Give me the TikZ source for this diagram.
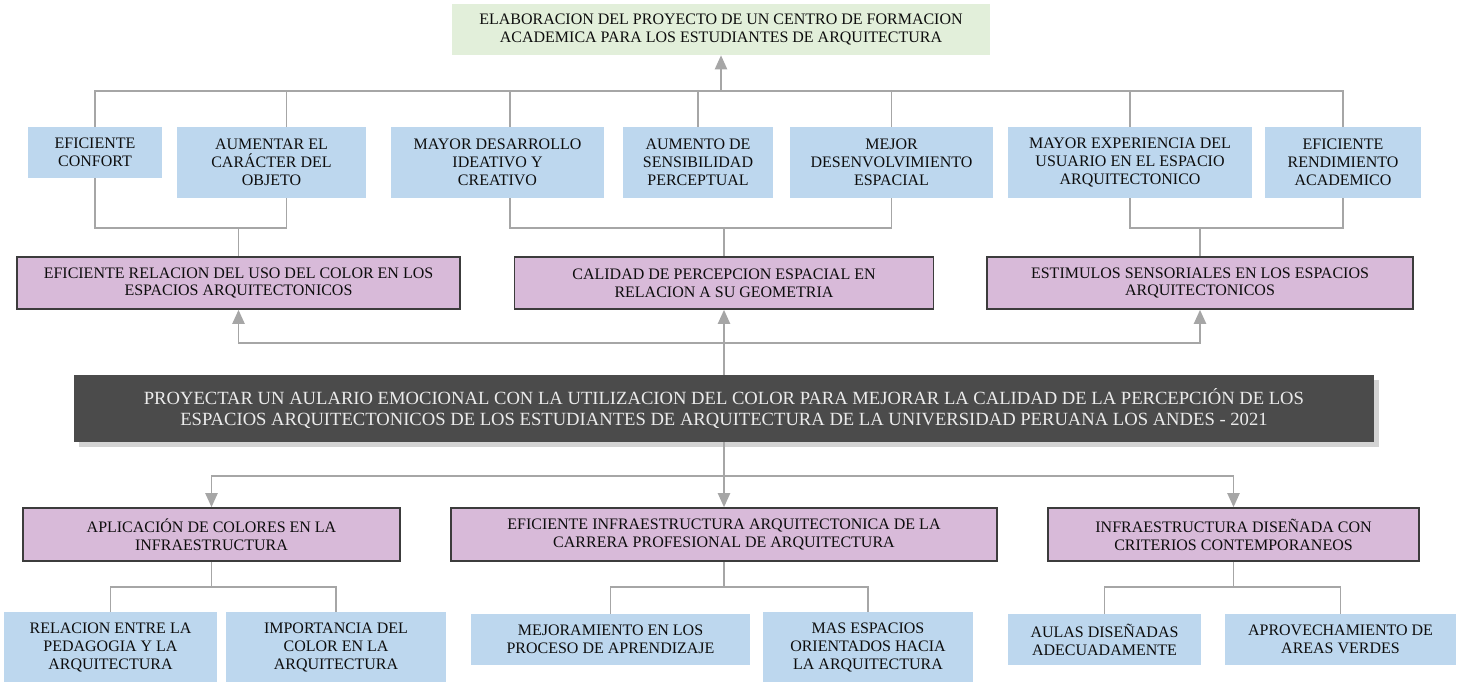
\documentclass[tikz,border=0pt]{standalone}
\usepackage{fontspec}
\setmainfont{Liberation Serif}
\usetikzlibrary{arrows.meta}
\usetikzlibrary{shadows}
\definecolor{finfill}{HTML}{E2EFDA}
\definecolor{bluefill}{HTML}{BDD7EE}
\definecolor{lilacfill}{HTML}{D8BAD9}
\definecolor{lilacline}{HTML}{3C3C3C}
\definecolor{darkfill}{HTML}{4B4B4B}
\definecolor{linkgray}{HTML}{A6A6A6}
\tikzset{x=0.02cm, y=-0.02cm,
every node/.style={ % Common text for all boxes
inner sep=0pt,
align=center,
text=black!95,
font=\fontsize{9.1}{10.2}\selectfont},
finbox/.style={fill=finfill},
bluebox/.style={fill=bluefill},
lilacbox/.style={fill=lilacfill, draw=lilacline, line width=1pt},
objbox/.style={ % Central objective
fill=darkfill,
text=white!92!black,
font=\fontsize{10.6}{11.4}\selectfont,
drop shadow={shadow xshift=3pt, shadow yshift=-3pt, opacity=0.35}},
link/.style={draw=linkgray, line width=0.9pt},
arr/.style={link, -{Triangle[width=7pt,length=8pt]}, color=linkgray}}

\begin{document}
\begin{tikzpicture}
	\useasboundingbox (0,0) rectangle (1459,681);
	% fin ultimo
	\node[finbox, minimum width=10.76cm, minimum height=1.02cm] (fin) at (721,29.5) {ELABORACION DEL PROYECTO DE UN CENTRO DE FORMACION\\ACADEMICA PARA LOS ESTUDIANTES DE ARQUITECTURA};
	% fines indirectos
	\node[bluebox, minimum width=2.68cm, minimum height=1.02cm] (f1) at (95,152.5) {EFICIENTE\\CONFORT};
	\node[bluebox, minimum width=3.78cm, minimum height=1.42cm] (f2) at (271.5,162.5) {AUMENTAR EL\\CARÁCTER DEL\\OBJETO};
	\node[bluebox, minimum width=4.26cm, minimum height=1.42cm] (f3) at (497.5,162.5) {MAYOR DESARROLLO\\IDEATIVO Y\\CREATIVO};
	\node[bluebox, minimum width=3.0cm, minimum height=1.42cm] (f4) at (698,162.5) {AUMENTO DE\\SENSIBILIDAD\\PERCEPTUAL};
	\node[bluebox, minimum width=4.06cm, minimum height=1.42cm] (f5) at (891.5,162.5) {MEJOR\\DESENVOLVIMIENTO\\ESPACIAL};
	\node[bluebox, minimum width=4.88cm, minimum height=1.42cm] (f6) at (1130,162.5) {MAYOR EXPERIENCIA DEL\\USUARIO EN EL ESPACIO\\ARQUITECTONICO};
	\node[bluebox, minimum width=3.12cm, minimum height=1.42cm] (f7) at (1343,162.5) {EFICIENTE\\RENDIMIENTO\\ACADEMICO};
	% fines directos
	\node[lilacbox, minimum width=8.86cm, minimum height=1.04cm] (fd1) at (238.5,283) {EFICIENTE RELACION DEL USO DEL COLOR EN LOS\\ESPACIOS ARQUITECTONICOS};
	\node[lilacbox, minimum width=8.38cm, minimum height=1.04cm] (fd2) at (724,283) {CALIDAD DE PERCEPCION ESPACIAL EN\\RELACION A SU GEOMETRIA};
	\node[lilacbox, minimum width=8.52cm, minimum height=1.04cm] (fd3) at (1200,283) {ESTIMULOS SENSORIALES EN LOS ESPACIOS\\ARQUITECTONICOS};
	% objetivo central
	\node[objbox, minimum width=26cm, minimum height=1.34cm] (obj) at (724,408.5) {PROYECTAR UN AULARIO EMOCIONAL CON LA UTILIZACION DEL COLOR PARA MEJORAR LA CALIDAD DE LA PERCEPCIÓN DE LOS\\ESPACIOS ARQUITECTONICOS DE LOS ESTUDIANTES DE ARQUITECTURA DE LA UNIVERSIDAD PERUANA LOS ANDES - 2021};
	% medios directos
	\node[lilacbox, minimum width=7.54cm, minimum height=1.06cm] (md1) at (211.5,534.5) {APLICACIÓN DE COLORES EN LA\\INFRAESTRUCTURA};
	\node[lilacbox, minimum width=10.92cm, minimum height=1.06cm] (md2) at (724,534.5) {EFICIENTE INFRAESTRUCTURA ARQUITECTONICA DE LA\\CARRERA PROFESIONAL DE ARQUITECTURA};
	\node[lilacbox, minimum width=7.42cm, minimum height=1.06cm] (md3) at (1233.5,534.5) {INFRAESTRUCTURA DISEÑADA CON\\CRITERIOS CONTEMPORANEOS};
	% medios fundamentales
	\node[bluebox, minimum width=4.26cm, minimum height=1.42cm] (m1) at (110.5,647.5) {RELACION ENTRE LA\\PEDAGOGIA Y LA\\ARQUITECTURA};
	\node[bluebox, minimum width=4.4cm, minimum height=1.42cm] (m2) at (336,647.5) {IMPORTANCIA DEL\\COLOR EN LA\\ARQUITECTURA};
	\node[bluebox, minimum width=5.58cm, minimum height=1.02cm] (m3) at (610.5,639.5) {MEJORAMIENTO EN LOS\\PROCESO DE APRENDIZAJE};
	\node[bluebox, minimum width=4.2cm, minimum height=1.42cm] (m4) at (868,647.5) {MAS ESPACIOS\\ORIENTADOS HACIA\\LA ARQUITECTURA};
	\node[bluebox, minimum width=3.86cm, minimum height=1.02cm] (m5) at (1104.5,639.5) {AULAS DISEÑADAS\\ADECUADAMENTE};
	\node[bluebox, minimum width=4.62cm, minimum height=1.02cm] (m6) at (1340.5,639.5) {APROVECHAMIENTO DE\\AREAS VERDES};
	% junctions
	\coordinate (jtop) at (721,91);
	\coordinate (jmid) at (724,228);
	\coordinate (jup) at (724,343);
	\coordinate (jdown) at (724,476);
	\coordinate (jbot) at (724,587);
	% fines -> fin
	\draw[link] (f1.north) |- (f7.north |- jtop) -- (f7.north);
	\draw[link] ([xshift=0.3cm]f2.north) -- ([xshift=0.3cm]f2.north |- jtop);
	\draw[link] ([xshift=0.25cm]f3.north) -- ([xshift=0.25cm]f3.north |- jtop);
	\foreach \n in {f4,f5,f6}
		\draw[link] (\n.north) -- (\n.north |- jtop);
	\draw[arr] (jtop) -- (fin.south);
	% fines indirectos -> fines directos
	\draw[link] (f1.south) |- ([xshift=0.3cm]f2.south |- jmid) -- ([xshift=0.3cm]f2.south);
	\draw[link] ([xshift=0.25cm]f3.south) |- (f5.south |- jmid) -- (f5.south);
	\draw[link] (f6.south) |- (f7.south |- jmid) -- (f7.south);
	\foreach \n in {fd1,fd2,fd3}
		\draw[link] (\n.north) -- (\n.north |- jmid);
	% objetivo -> fines directos
	\draw[link] (obj.north) -- (jup);
	\draw[arr] (jup) -| (fd1.south);
	\draw[arr] (jup) -- (fd2.south);
	\draw[arr] (jup) -| (fd3.south);
	% objetivo -> medios directos
	\draw[link] (obj.south) -- (jdown);
	\draw[arr] (jdown) -| (md1.north);
	\draw[arr] (jdown) -- (md2.north);
	\draw[arr] (jdown) -| (md3.north);
	% medios directos -> medios fundamentales
	\foreach \n in {md1,md2,md3}
		\draw[link] (\n.south) -- (\n.south |- jbot);
	\draw[link] (m1.north) |- (m2.north |- jbot) -- (m2.north);
	\draw[link] (m3.north) |- (m4.north |- jbot) -- (m4.north);
	\draw[link] (m5.north) |- (m6.north |- jbot) -- (m6.north);
\end{tikzpicture}
\end{document}
